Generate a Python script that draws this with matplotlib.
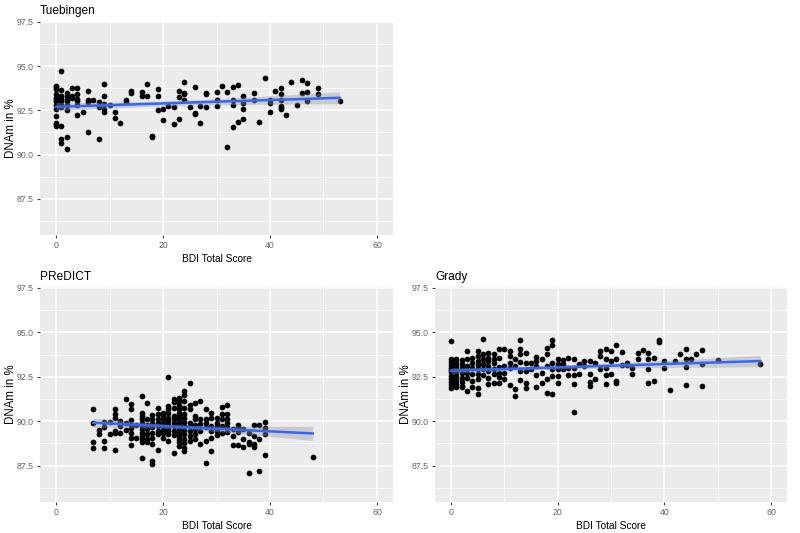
import numpy as np
import matplotlib
matplotlib.use("Agg")
import matplotlib.pyplot as plt

plt.rcParams['font.family'] = ['Liberation Sans', 'DejaVu Sans']

# ---------------- data ----------------
# Tuebingen: BDI score levels and DNAm values observed at each level
tue_bdi_levels = [0, 1, 2, 3, 4, 5, 6, 7, 8, 9, 10, 11, 12, 13, 14, 16, 17, 18, 19, 20,
                  21, 22, 23, 24, 25, 26, 27, 28, 30, 31, 32, 33, 34, 35, 37, 38, 39, 40,
                  41, 42, 43, 44, 45, 46, 47, 49, 53]
tue_dnam_by_level = [
    [93.9, 93.8, 93.7, 93.4, 93.2, 93.1, 93.0, 92.8, 92.55, 92.2, 91.8, 91.7, 91.6],
    [94.7, 93.65, 93.3, 93.15, 93.0, 92.8, 92.7, 91.6, 90.85, 90.65],
    [93.5, 93.3, 93.15, 93.0, 92.8, 92.5, 91.0, 90.3],
    [93.75, 93.3, 93.2],
    [93.75, 93.4, 93.15, 93.05, 92.8, 92.25],
    [92.4],
    [93.6, 93.1, 92.95, 91.25],
    [93.1],
    [92.95, 92.7, 90.85],
    [94.0, 93.33, 92.85, 92.6, 92.4],
    [92.8],
    [92.4, 92.05],
    [91.8],
    [93.1, 92.95],
    [93.6, 93.5],
    [93.55, 93.33],
    [94.0, 93.33],
    [91.07, 91.0],
    [93.7, 93.3, 92.5],
    [92.58, 91.95],
    [92.76],
    [92.67, 91.75],
    [93.57, 93.25, 92.0],
    [94.08, 93.5, 93.42, 93.1],
    [92.67],
    [93.8, 92.35, 92.28],
    [92.73, 91.8],
    [93.5, 93.42, 92.7],
    [93.55, 93.1, 92.73],
    [93.9],
    [93.55, 90.45],
    [93.8, 93.1, 92.8, 91.58],
    [93.93, 91.86],
    [93.33, 92.9, 92.6, 92.0],
    [93.48, 93.1],
    [91.82],
    [94.34],
    [93.1, 92.9, 92.43],
    [93.57],
    [93.78, 93.42, 93.1, 92.73, 92.65, 92.58],
    [92.23],
    [94.12],
    [92.8],
    [94.23, 93.5],
    [94.02, 93.55, 93.05],
    [93.74, 93.42],
    [93.03],
]

# PReDICT
pre_bdi_levels = list(range(7, 40)) + [48]
pre_dnam_by_level = [
    [90.7, 89.88, 88.8, 88.5],
    [89.5, 89.3],
    [89.95, 89.65, 88.9, 88.5],
    [89.95, 89.25],
    [90.67, 90.4, 90.2, 89.45, 89.35, 88.4],
    [90.0, 89.7, 89.35],
    [91.23, 89.9, 89.5],
    [90.95, 90.7, 90.05, 89.8, 89.6, 89.35, 89.07, 88.65],
    [89.8, 89.07],
    [91.41, 90.48, 90.3, 90.1, 89.9, 89.72, 89.54, 89.35, 89.17, 88.98, 88.83, 87.93],
    [91.0, 90.1, 89.8, 89.55, 89.26, 88.98, 88.8],
    [90.33, 90.14, 89.92, 89.65, 89.35, 89.07, 88.7, 87.76, 87.58],
    [90.76, 90.4, 90.14, 89.92, 89.7, 89.45, 89.26, 88.38],
    [90.48, 90.3, 90.1, 89.92, 89.72, 89.5, 89.32, 89.07],
    [92.5, 90.85, 90.67, 90.44, 90.2, 90.0, 89.8, 89.6, 89.45, 89.26, 88.9],
    [91.26, 91.08, 90.76, 90.3, 90.1, 89.92, 89.7, 89.45, 89.2, 88.2],
    [91.32, 91.13, 90.9, 90.67, 90.48, 90.3, 90.1, 89.92, 89.72, 89.54, 89.35, 89.17,
     88.98, 88.8, 88.6],
    [91.7, 91.5, 91.13, 90.76, 90.4, 90.2, 89.95, 89.72, 89.5, 89.26, 88.98, 88.75,
     88.5, 88.33],
    [92.16, 90.9, 90.7, 89.92, 89.72, 89.45, 89.17, 88.9],
    [91.04, 90.3, 90.1, 89.8, 89.54, 89.26, 89.0],
    [91.13, 90.14, 89.85, 89.45, 88.74],
    [90.7, 90.14, 89.92, 89.65, 88.9, 87.67],
    [90.44, 90.2, 89.72, 89.45, 89.07, 88.33],
    [90.2, 89.92, 89.72, 89.45, 89.2],
    [90.81, 90.4, 90.1, 89.72, 89.35],
    [90.9, 90.4, 90.14, 89.88, 89.65, 89.4],
    [89.54, 89.17, 88.65],
    [89.8, 89.6, 89.4, 88.65],
    [89.58, 89.02, 88.56],
    [89.35, 88.83, 88.7, 87.1],
    [89.8, 89.17, 88.7, 88.56],
    [89.8, 88.98, 87.18],
    [89.98, 89.6, 89.26, 88.08],
    [88.0],
]

# Grady
gra_bdi_levels = list(range(0, 48)) + [50, 58]
gra_dnam_by_level = [
    [94.5, 93.5, 93.35, 93.15, 93.0, 92.9, 92.75, 92.55, 92.4, 92.2, 92.05, 91.85],
    [93.5, 93.3, 93.1, 92.95, 92.75, 92.55, 92.3, 92.1, 91.9],
    [93.45, 93.2, 93.0, 92.7, 92.45, 92.2, 92.0, 91.9],
    [93.96, 93.47, 93.1, 92.72, 92.45, 91.7],
    [93.57, 93.29, 93.0, 92.63, 92.26, 91.94],
    [93.94, 93.66, 93.38, 93.14, 92.91, 92.63, 92.35, 91.88, 91.55],
    [94.6, 93.76, 93.47, 93.19, 92.91, 92.57],
    [93.85, 93.57, 93.38, 93.1, 92.82, 92.44, 92.07],
    [93.76, 93.51, 93.29, 92.91, 92.63, 92.16],
    [94.07, 93.53, 93.06, 92.72, 92.5, 92.16],
    [94.07, 93.1, 92.72, 92.39],
    [93.94, 93.66, 93.29, 93.0, 92.01],
    [93.47, 93.1, 91.83, 91.42],
    [94.54, 94.07, 93.76, 93.32, 92.82, 92.31],
    [93.85, 93.25, 92.82, 92.13, 91.88],
    [93.29, 92.91],
    [93.6, 93.38, 93.1, 92.57, 91.92],
    [93.51, 92.72, 92.13],
    [94.13, 93.76, 93.1, 92.39, 91.57],
    [94.54, 94.26, 93.29, 92.91, 92.54, 91.51],
    [93.47, 93.19, 92.91, 92.54, 92.13],
    [93.44, 93.19, 92.91],
    [93.55, 93.0, 92.57],
    [93.47, 93.0, 92.57, 92.07, 90.52],
    [93.19, 92.63],
    [93.38, 93.1],
    [93.38, 92.63, 92.2, 91.98],
    [93.29, 92.39],
    [93.94, 93.66, 92.91],
    [94.07, 93.51, 93.0, 92.57, 92.07],
    [93.94, 93.38, 92.67],
    [94.3, 93.47, 92.26, 92.13],
    [93.88, 93.14],
    [93.29, 93.14],
    [93.0, 92.63],
    [93.85, 93.47],
    [93.98],
    [93.85, 93.51, 92.95, 92.13],
    [93.53, 92.26],
    [94.54, 94.48],
    [93.38, 93.0],
    [91.74],
    [93.38],
    [93.76],
    [94.07, 93.51, 93.04, 92.01],
    [93.47],
    [93.76],
    [93.98, 93.19, 91.98],
    [93.44],
    [93.19],
]

panel_titles = ["Tuebingen", "PReDICT", "Grady"]
x_label = "BDI Total Score"
y_label = "DNAm in %"
x_ticks = [0, 20, 40, 60]
y_ticks = [87.5, 90.0, 92.5, 95.0, 97.5]
y_tick_labels = ["87.5", "90.0", "92.5", "95.0", "97.5"]


def flatten(levels, by_level):
    xs, ys = [], []
    for lv, vals in zip(levels, by_level):
        for v in vals:
            xs.append(lv)
            ys.append(v)
    return np.array(xs, float), np.array(ys, float)


# ---------------- figure ----------------
fig = plt.figure(figsize=(8.0, 5.33), dpi=100)
fig.patch.set_facecolor("white")

axes_pos = [
    [40 / 800, 1 - 235 / 533, 353 / 800, 214 / 533],
    [40 / 800, 1 - 502 / 533, 353 / 800, 215 / 533],
    [435 / 800, 1 - 502 / 533, 352 / 800, 215 / 533],
]
datasets = [
    flatten(tue_bdi_levels, tue_dnam_by_level),
    flatten(pre_bdi_levels, pre_dnam_by_level),
    flatten(gra_bdi_levels, gra_dnam_by_level),
]

for pos, (xs, ys), title in zip(axes_pos, datasets, panel_titles):
    ax = fig.add_axes(pos)
    ax.set_facecolor("#EBEBEB")
    for s in ax.spines.values():
        s.set_visible(False)
    ax.set_xlim(-3, 63)
    ax.set_ylim(85.45, 97.55)
    ax.set_xticks(x_ticks)
    ax.set_yticks(y_ticks)
    ax.set_yticklabels(y_tick_labels)
    ax.set_xticks([10, 30, 50], minor=True)
    ax.set_yticks([86.25, 88.75, 91.25, 93.75, 96.25], minor=True)
    ax.grid(True, which="major", color="white", linewidth=1.1)
    ax.grid(True, which="minor", color="white", linewidth=0.55)
    ax.set_axisbelow(True)
    ax.tick_params(which="major", length=2.5, width=0.8, color="#444444",
                   labelsize=6.3, labelcolor="#666666", pad=2)
    ax.tick_params(which="minor", length=0)

    # linear fit with 95% confidence band (geom_smooth(method = "lm"))
    n = len(xs)
    coef = np.polyfit(xs, ys, 1)
    xf = np.linspace(xs.min(), xs.max(), 100)
    yf = np.polyval(coef, xf)
    resid = ys - np.polyval(coef, xs)
    s_err = np.sqrt(np.sum(resid ** 2) / (n - 2))
    sxx = np.sum((xs - xs.mean()) ** 2)
    se = s_err * np.sqrt(1.0 / n + (xf - xs.mean()) ** 2 / sxx)
    tval = 1.97
    ax.fill_between(xf, yf - tval * se, yf + tval * se, color="#999999", alpha=0.4,
                    linewidth=0, zorder=3)
    ax.scatter(xs, ys, s=17, color="black", linewidths=0, zorder=2.5)
    ax.plot(xf, yf, color="#3366FF", linewidth=1.8, zorder=4)

    ax.set_xlabel(x_label, fontsize=7.3, color="black", labelpad=3)
    ax.set_ylabel(y_label, fontsize=8.3, color="black", labelpad=0)
    ax.set_title(title, fontsize=8.6, loc="left", x=-0.0, pad=5, color="black")

fig.savefig("out.png", dpi=100, facecolor="white")
